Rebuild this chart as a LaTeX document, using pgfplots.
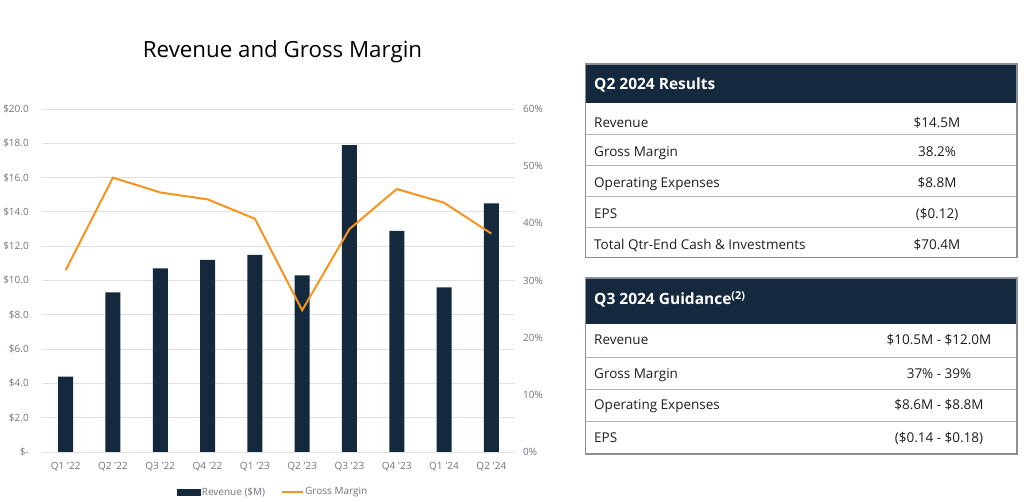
\documentclass[border=0pt]{standalone}
\usepackage{fontspec}
\setmainfont{Open Sans}
\usepackage{pgfplots}
\pgfplotsset{compat=1.18}
\definecolor{navy}{HTML}{14293D}
\definecolor{gmorange}{HTML}{F7941D}
\definecolor{tickgray}{HTML}{6E737C}
\definecolor{gridgray}{HTML}{E0E0E0}
\definecolor{outerborder}{HTML}{8E8E8E}
\definecolor{innerborder}{HTML}{B4B4B4}
\definecolor{tabtext}{HTML}{1E1E1E}
\newcommand{\tickfont}{\fontsize{10}{12}\selectfont}
\newcommand{\tabfont}{\fontsize{13.5}{16}\selectfont}
\newcommand{\headfont}{\fontsize{15.5}{18}\selectfont\bfseries}
\begin{document}
\begin{tikzpicture}
\useasboundingbox (0pt,0pt) rectangle (1024pt,502pt);
% ---------- left axis: revenue bars ----------
\begin{axis}[
  at={(42pt,50pt)}, anchor=south west, scale only axis,
  width=473pt, height=343pt,
  xmin=-0.5, xmax=9.5, ymin=0, ymax=20,
  axis line style={draw=none}, major tick length=0pt,
  ytick={0,2,4,6,8,10,12,14,16,18,20},
  yticklabels={\$-\hspace{3pt},\$2.0,\$4.0,\$6.0,\$8.0,\$10.0,\$12.0,\$14.0,\$16.0,\$18.0,\$20.0},
  ymajorgrids, grid style={draw=gridgray, line width=0.9pt},
  xtick={0,1,2,3,4,5,6,7,8,9},
  xticklabels={Q1 \textquotesingle22,Q2 \textquotesingle22,Q3 \textquotesingle22,Q4 \textquotesingle22,Q1 \textquotesingle23,Q2 \textquotesingle23,Q3 \textquotesingle23,Q4 \textquotesingle23,Q1 \textquotesingle24,Q2 \textquotesingle24},
  ticklabel style={font=\tickfont, text=tickgray},
  yticklabel style={anchor=east, inner xsep=0pt, xshift=-13pt},
  xticklabel style={anchor=north, inner ysep=0pt, yshift=-10pt},
  /pgf/number format/assume math mode=true,
  clip=false,
]
\addplot[ybar, bar width=15pt, fill=navy, draw=none] coordinates {
  (0,4.4) (1,9.3) (2,10.7) (3,11.2) (4,11.5) (5,10.3) (6,17.9) (7,12.9) (8,9.6) (9,14.5)
};
\end{axis}
% ---------- right axis: gross margin line ----------
\begin{axis}[
  at={(42pt,50pt)}, anchor=south west, scale only axis,
  width=473pt, height=343pt,
  xmin=-0.5, xmax=9.5, ymin=0, ymax=60,
  axis x line=none, axis y line*=right,
  axis line style={draw=none}, major tick length=0pt,
  ytick={0,10,20,30,40,50,60},
  yticklabels={0\%,10\%,20\%,30\%,40\%,50\%,60\%},
  ticklabel style={font=\tickfont, text=tickgray},
  yticklabel style={anchor=west, inner xsep=0pt, xshift=8pt},
  /pgf/number format/assume math mode=true,
  clip=false,
  legend style={at={(0.488,-0.1166)}, anchor=center, draw=none, fill=none,
    font=\tickfont, text=tickgray, legend columns=2,
    /tikz/every even column/.append style={column sep=14pt},
    inner sep=0pt, nodes={inner xsep=1.5pt, inner ysep=1pt}},
]
\addlegendimage{legend image code/.code={\fill[navy] (0pt,-3pt) rectangle (23pt,3pt);}}
\addlegendentry{Revenue (\$M)}
\addplot[gmorange, line width=2pt, mark=none,
  legend image code/.code={\draw[gmorange, line width=2pt] (0pt,0pt) -- (21pt,0pt);}]
  coordinates {
  (0,31.8) (1,48.0) (2,45.4) (3,44.2) (4,40.8) (5,24.8) (6,39.0) (7,46.0) (8,43.6) (9,38.2)
};
\addlegendentry{Gross Margin}
\end{axis}
\begin{scope}[x=1pt,y=1pt]
% ---------- title ----------
\node[anchor=base, font=\fontsize{22.3}{26}\selectfont, text=black, inner sep=0pt] at (282.5,444) {Revenue and Gross Margin};
% ---------- table 1: Q2 2024 Results ----------
\fill[navy] (585.5,438) rectangle (1017,398.5);
\draw[innerborder, line width=0.8pt] (585.5,368) -- (1017,368);
\draw[innerborder, line width=0.8pt] (585.5,337) -- (1017,337);
\draw[innerborder, line width=0.8pt] (585.5,306) -- (1017,306);
\draw[innerborder, line width=0.8pt] (585.5,275) -- (1017,275);
\draw[outerborder, line width=1.2pt] (585.5,438) rectangle (1017,244.5);
\node[anchor=base west, inner sep=0pt, font=\headfont, text=white] at (594,412) {Q2 2024 Results};
\begin{scope}[every node/.style={inner sep=0pt, font=\tabfont, text=tabtext}]
\node[anchor=base west] at (594,374) {Revenue};
\node[anchor=base west] at (594,345) {Gross Margin};
\node[anchor=base west] at (594,314) {Operating Expenses};
\node[anchor=base west] at (594,283.5) {EPS};
\node[anchor=base west] at (594,252.5) {Total Qtr-End Cash \& Investments};
\node[anchor=base] at (937,374) {\$14.5M};
\node[anchor=base] at (937,345) {38.2\%};
\node[anchor=base] at (937,314) {\$8.8M};
\node[anchor=base] at (937,283.5) {(\$0.12)};
\node[anchor=base] at (937,252.5) {\$70.4M};
\end{scope}
% ---------- table 2: Q3 2024 Guidance ----------
\fill[navy] (585.5,224) rectangle (1017,178);
\draw[innerborder, line width=0.8pt] (585.5,145) -- (1017,145);
\draw[innerborder, line width=0.8pt] (585.5,113) -- (1017,113);
\draw[innerborder, line width=0.8pt] (585.5,81) -- (1017,81);
\draw[outerborder, line width=1.2pt] (585.5,224) rectangle (1017,48);
\node[anchor=base west, inner sep=0pt, font=\headfont, text=white] at (594,197) {Q3 2024 Guidance\textsuperscript{(2)}};
\begin{scope}[every node/.style={inner sep=0pt, font=\tabfont, text=tabtext}]
\node[anchor=base west] at (594,157) {Revenue};
\node[anchor=base west] at (594,123.7) {Gross Margin};
\node[anchor=base west] at (594,92) {Operating Expenses};
\node[anchor=base west] at (594,59.3) {EPS};
\node[anchor=base] at (939,157) {\$10.5M - \$12.0M};
\node[anchor=base] at (939,123.7) {37\% - 39\%};
\node[anchor=base] at (939,92) {\$8.6M - \$8.8M};
\node[anchor=base] at (939,59.3) {(\$0.14 - \$0.18)};
\end{scope}
\end{scope}
\end{tikzpicture}
\end{document}
